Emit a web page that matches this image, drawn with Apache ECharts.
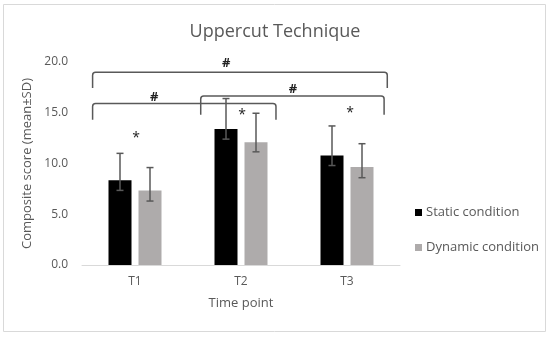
<!DOCTYPE html>
<html>
<head>
<meta charset="utf-8">
<script src="https://cdn.jsdelivr.net/npm/echarts@6/dist/echarts.min.js"></script>
<style>
html,body{margin:0;padding:0;background:#fff;}
#chart{width:550px;height:338px;}
</style>
</head>
<body>
<div id="chart"></div>
<script>
// ---- data ----
const categories = ['T1', 'T2', 'T3'];
const staticMean = [8.35, 13.4, 10.8];
const staticLow = [7.35, 12.4, 9.8];
const staticHigh = [11.0, 16.4, 13.7];
const dynamicMean = [7.35, 12.1, 9.65];
const dynamicLow = [6.3, 11.15, 8.6];
const dynamicHigh = [9.6, 14.95, 11.95];
// brackets: [x start (category units), x end, top value, end value]
const brackets = [
  [-0.40, 2.38, 19.0, 17.45],
  [-0.40, 1.33, 15.9, 14.3],
  [0.62, 2.35, 16.65, 14.8]
];
// significance marks: [x (category units), value, text]
const marks = [
  [0.86, 19.9, '#'],
  [0.18, 16.5, '#'],
  [1.49, 17.35, '#'],
  [0.01, 12.5, '*'],
  [1.01, 14.8, '*'],
  [2.03, 15.0, '*']
];
const yMax = 20, yInterval = 5;

const TXT = '#595959';
const FONT = '"Open Sans", "Noto Sans", sans-serif';
const BAR_W = 23, BAR_GAP = 7;
const OFF = (BAR_W + BAR_GAP) / 2;

const chart = echarts.init(document.getElementById('chart'));

function errRender(offset, low, high) {
  return function (params, api) {
    const i = params.dataIndex;
    const lo = api.coord([i, low[i]]);
    const hi = api.coord([i, high[i]]);
    const x = lo[0] + offset;
    const st = { stroke: TXT, lineWidth: 1.5 };
    return {
      type: 'group',
      children: [
        { type: 'line', shape: { x1: x, y1: lo[1], x2: x, y2: hi[1] }, style: st },
        { type: 'line', shape: { x1: x - 3.5, y1: lo[1], x2: x + 3.5, y2: lo[1] }, style: st },
        { type: 'line', shape: { x1: x - 3.5, y1: hi[1], x2: x + 3.5, y2: hi[1] }, style: st }
      ]
    };
  };
}

function catX(api, xf, y) {
  const p0 = api.coord([0, y]);
  const band = api.size([1, 0])[0];
  return [p0[0] + xf * band, p0[1]];
}

chart.setOption({
  animation: false,
  textStyle: { fontFamily: FONT },
  title: {
    text: 'Uppercut Technique',
    left: 'center',
    top: 18,
    textStyle: { color: TXT, fontSize: 18, fontWeight: 'normal', fontFamily: FONT }
  },
  graphic: [{
    type: 'rect',
    shape: { x: 3.5, y: 4.5, width: 542, height: 327 },
    style: { fill: 'none', stroke: '#d9d9d9', lineWidth: 1 },
    silent: true
  }],
  legend: {
    orient: 'vertical',
    left: 410,
    top: 201,
    itemWidth: 7,
    itemHeight: 7,
    itemGap: 22,
    icon: 'rect',
    data: ['Static condition', 'Dynamic condition'],
    textStyle: { color: TXT, fontSize: 13, fontFamily: FONT, padding: [0, 0, 0, -1] }
  },
  grid: { left: 82, right: 150, top: 62, bottom: 73 },
  xAxis: {
    type: 'category',
    data: categories,
    name: 'Time point',
    nameLocation: 'middle',
    nameGap: 32,
    nameTextStyle: { color: TXT, fontSize: 13 },
    axisLine: { lineStyle: { color: '#d9d9d9', width: 1 } },
    axisTick: { show: false },
    axisLabel: { color: TXT, fontSize: 12, margin: 11 }
  },
  yAxis: {
    type: 'value',
    min: 0,
    max: yMax,
    interval: yInterval,
    name: 'Composite score (mean±SD)',
    nameLocation: 'middle',
    nameGap: 38,
    nameTextStyle: { color: TXT, fontSize: 13 },
    axisLine: { show: false },
    axisTick: { show: false },
    splitLine: { show: false },
    axisLabel: { color: TXT, fontSize: 12, margin: 14, formatter: v => v.toFixed(1) }
  },
  series: [
    {
      name: 'Static condition',
      type: 'bar',
      data: staticMean,
      barWidth: BAR_W,
      barGap: (BAR_GAP / BAR_W * 100) + '%',
      itemStyle: { color: '#000000' }
    },
    {
      name: 'Dynamic condition',
      type: 'bar',
      data: dynamicMean,
      barWidth: BAR_W,
      itemStyle: { color: '#aeabab' }
    },
    {
      type: 'custom',
      data: categories.map((c, i) => [i, staticHigh[i]]),
      renderItem: errRender(-OFF, staticLow, staticHigh),
      z: 5, silent: true, clip: false
    },
    {
      type: 'custom',
      data: categories.map((c, i) => [i, dynamicHigh[i]]),
      renderItem: errRender(OFF, dynamicLow, dynamicHigh),
      z: 5, silent: true, clip: false
    },
    {
      type: 'custom',
      data: brackets.map(b => [0, b[2]]),
      renderItem: function (params, api) {
        const b = brackets[params.dataIndex];
        const a = catX(api, b[0], b[3]);
        const t = catX(api, b[0], b[2]);
        const t2 = catX(api, b[1], b[2]);
        const e = catX(api, b[1], b[3]);
        const r = 3;
        return {
          type: 'path',
          shape: {
            pathData: `M${a[0]},${a[1]} L${t[0]},${t[1] + r} Q${t[0]},${t[1]} ${t[0] + r},${t[1]} L${t2[0] - r},${t2[1]} Q${t2[0]},${t2[1]} ${t2[0]},${t2[1] + r} L${e[0]},${e[1]}`
          },
          style: { fill: 'none', stroke: TXT, lineWidth: 1.5 }
        };
      },
      z: 6, silent: true, clip: false
    },
    {
      type: 'custom',
      data: marks.map(m => [0, m[1]]),
      renderItem: function (params, api) {
        const m = marks[params.dataIndex];
        const p = catX(api, m[0], m[1]);
        return {
          type: 'text',
          style: {
            x: p[0], y: p[1], text: m[2],
            fill: '#222', fontSize: m[2] === '#' ? 13 : 14,
            fontFamily: FONT, fontWeight: m[2] === '#' ? 'bold' : 'normal',
            align: 'center', verticalAlign: 'middle'
          }
        };
      },
      z: 7, silent: true, clip: false
    }
  ]
});
</script>
</body>
</html>
